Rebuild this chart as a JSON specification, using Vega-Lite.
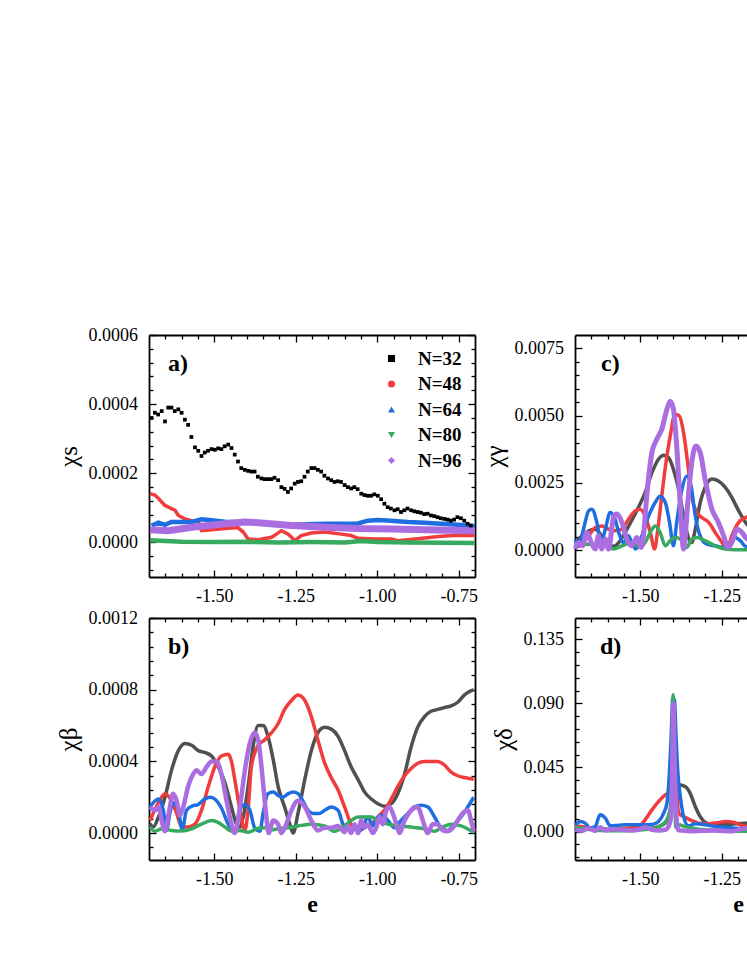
{
  "$schema": "https://vega.github.io/schema/vega-lite/v6.json",
  "background": "white",
  "padding": {"left": 56, "top": 326, "right": 5, "bottom": 5},
  "config": {
    "font": "Liberation Serif",
    "view": {"stroke": null},
    "axis": {"domainColor": "black", "domainWidth": 1.8, "tickColor": "black", "tickWidth": 1.3, "labelFont": "Liberation Serif", "labelFontSize": 18, "labelColor": "black", "titleFont": "Liberation Serif", "titleColor": "black", "grid": false, "labelFlush": false, "labelOverlap": false, "labelBound": false},
    "title": {"font": "Liberation Serif", "fontSize": 24, "fontWeight": "bold", "color": "black", "anchor": "start", "frame": "group", "baseline": "alphabetic"}
  },
  "datasets": {
    "a_pts": [
      {"N":"N=32","x":-1.692,"y":0.00036},{"N":"N=32","x":-1.682,"y":0.000375},{"N":"N=32","x":-1.672,"y":0.00037},{"N":"N=32","x":-1.661,"y":0.00038},{"N":"N=32","x":-1.651,"y":0.00035},{"N":"N=32","x":-1.641,"y":0.00039},{"N":"N=32","x":-1.631,"y":0.00039},{"N":"N=32","x":-1.621,"y":0.00038},{"N":"N=32","x":-1.610,"y":0.000385},{"N":"N=32","x":-1.600,"y":0.000375},
      {"N":"N=32","x":-1.590,"y":0.000355},{"N":"N=32","x":-1.580,"y":0.00034},{"N":"N=32","x":-1.570,"y":0.000305},{"N":"N=32","x":-1.559,"y":0.000275},{"N":"N=32","x":-1.549,"y":0.000265},{"N":"N=32","x":-1.539,"y":0.00025},{"N":"N=32","x":-1.529,"y":0.00026},{"N":"N=32","x":-1.519,"y":0.000265},{"N":"N=32","x":-1.508,"y":0.00027},{"N":"N=32","x":-1.498,"y":0.000268},
      {"N":"N=32","x":-1.488,"y":0.000272},{"N":"N=32","x":-1.478,"y":0.00027},{"N":"N=32","x":-1.468,"y":0.000278},{"N":"N=32","x":-1.457,"y":0.000283},{"N":"N=32","x":-1.447,"y":0.000273},{"N":"N=32","x":-1.437,"y":0.000254},{"N":"N=32","x":-1.427,"y":0.000234},{"N":"N=32","x":-1.417,"y":0.000215},{"N":"N=32","x":-1.406,"y":0.00021},{"N":"N=32","x":-1.396,"y":0.000207},
      {"N":"N=32","x":-1.386,"y":0.000205},{"N":"N=32","x":-1.376,"y":0.000205},{"N":"N=32","x":-1.366,"y":0.00019},{"N":"N=32","x":-1.355,"y":0.000185},{"N":"N=32","x":-1.345,"y":0.000183},{"N":"N=32","x":-1.335,"y":0.000183},{"N":"N=32","x":-1.325,"y":0.000183},{"N":"N=32","x":-1.315,"y":0.000187},{"N":"N=32","x":-1.304,"y":0.00018},{"N":"N=32","x":-1.294,"y":0.00016},
      {"N":"N=32","x":-1.284,"y":0.000155},{"N":"N=32","x":-1.274,"y":0.000146},{"N":"N=32","x":-1.264,"y":0.000156},{"N":"N=32","x":-1.253,"y":0.00017},{"N":"N=32","x":-1.243,"y":0.000175},{"N":"N=32","x":-1.233,"y":0.000177},{"N":"N=32","x":-1.223,"y":0.00019},{"N":"N=32","x":-1.213,"y":0.000205},{"N":"N=32","x":-1.202,"y":0.000215},{"N":"N=32","x":-1.192,"y":0.000215},
      {"N":"N=32","x":-1.182,"y":0.00021},{"N":"N=32","x":-1.172,"y":0.000205},{"N":"N=32","x":-1.162,"y":0.000193},{"N":"N=32","x":-1.151,"y":0.000185},{"N":"N=32","x":-1.141,"y":0.00018},{"N":"N=32","x":-1.131,"y":0.000175},{"N":"N=32","x":-1.121,"y":0.000177},{"N":"N=32","x":-1.111,"y":0.000175},{"N":"N=32","x":-1.100,"y":0.000166},{"N":"N=32","x":-1.090,"y":0.00016},
      {"N":"N=32","x":-1.080,"y":0.000156},{"N":"N=32","x":-1.070,"y":0.00016},{"N":"N=32","x":-1.060,"y":0.000154},{"N":"N=32","x":-1.049,"y":0.000141},{"N":"N=32","x":-1.039,"y":0.000137},{"N":"N=32","x":-1.029,"y":0.000135},{"N":"N=32","x":-1.019,"y":0.000135},{"N":"N=32","x":-1.009,"y":0.000139},{"N":"N=32","x":-0.998,"y":0.000135},{"N":"N=32","x":-0.988,"y":0.000125},
      {"N":"N=32","x":-0.978,"y":0.000112},{"N":"N=32","x":-0.968,"y":0.000102},{"N":"N=32","x":-0.958,"y":0.000098},{"N":"N=32","x":-0.947,"y":0.000093},{"N":"N=32","x":-0.937,"y":0.000096},{"N":"N=32","x":-0.927,"y":0.000088},{"N":"N=32","x":-0.917,"y":0.000093},{"N":"N=32","x":-0.907,"y":0.000098},{"N":"N=32","x":-0.896,"y":0.000093},{"N":"N=32","x":-0.886,"y":0.00009},
      {"N":"N=32","x":-0.876,"y":0.000088},{"N":"N=32","x":-0.866,"y":0.000086},{"N":"N=32","x":-0.856,"y":0.000082},{"N":"N=32","x":-0.845,"y":0.000083},{"N":"N=32","x":-0.835,"y":0.000078},{"N":"N=32","x":-0.825,"y":0.000076},{"N":"N=32","x":-0.815,"y":0.000073},{"N":"N=32","x":-0.805,"y":0.00007},{"N":"N=32","x":-0.794,"y":0.000068},{"N":"N=32","x":-0.784,"y":0.000066},
      {"N":"N=32","x":-0.774,"y":0.000063},{"N":"N=32","x":-0.764,"y":0.000066},{"N":"N=32","x":-0.754,"y":0.000073},{"N":"N=32","x":-0.743,"y":0.00007},{"N":"N=32","x":-0.733,"y":0.000063},{"N":"N=32","x":-0.723,"y":0.000054},{"N":"N=32","x":-0.713,"y":0.000049}
    ],
    "a_lines": [
      {"N":"N=48","x":-1.697,"y":0.000141},{"N":"N=48","x":-1.682,"y":0.000137},{"N":"N=48","x":-1.671,"y":0.000127},{"N":"N=48","x":-1.651,"y":0.000107},{"N":"N=48","x":-1.631,"y":0.000098},{"N":"N=48","x":-1.620,"y":0.000093},{"N":"N=48","x":-1.610,"y":0.000078},{"N":"N=48","x":-1.590,"y":0.000068},{"N":"N=48","x":-1.569,"y":0.000063},{"N":"N=48","x":-1.549,"y":0.00006},{"N":"N=48","x":-1.539,"y":0.000034},{"N":"N=48","x":-1.508,"y":0.000037},{"N":"N=48","x":-1.467,"y":0.00004},{"N":"N=48","x":-1.427,"y":0.000043},{"N":"N=48","x":-1.411,"y":0.00003},{"N":"N=48","x":-1.396,"y":0.00001},{"N":"N=48","x":-1.365,"y":0.000008},{"N":"N=48","x":-1.324,"y":0.000015},{"N":"N=48","x":-1.309,"y":0.000024},{"N":"N=48","x":-1.294,"y":0.000034},{"N":"N=48","x":-1.273,"y":0.000024},{"N":"N=48","x":-1.263,"y":0.000015},{"N":"N=48","x":-1.253,"y":0.000005},{"N":"N=48","x":-1.233,"y":0.00002},{"N":"N=48","x":-1.202,"y":0.000027},{"N":"N=48","x":-1.161,"y":0.00003},{"N":"N=48","x":-1.110,"y":0.000024},{"N":"N=48","x":-1.080,"y":0.00002},{"N":"N=48","x":-1.059,"y":0.000012},{"N":"N=48","x":-1.008,"y":0.00001},{"N":"N=48","x":-0.957,"y":0.00001},{"N":"N=48","x":-0.937,"y":0.000005},{"N":"N=48","x":-0.906,"y":0.000008},{"N":"N=48","x":-0.855,"y":0.000013},{"N":"N=48","x":-0.804,"y":0.000018},{"N":"N=48","x":-0.753,"y":0.000021},{"N":"N=48","x":-0.700,"y":0.00002},
      {"N":"N=64","x":-1.692,"y":0.000049},{"N":"N=64","x":-1.671,"y":0.000057},{"N":"N=64","x":-1.651,"y":0.000051},{"N":"N=64","x":-1.631,"y":0.000059},{"N":"N=64","x":-1.569,"y":0.000059},{"N":"N=64","x":-1.539,"y":0.000067},{"N":"N=64","x":-1.508,"y":0.000064},{"N":"N=64","x":-1.467,"y":0.00006},{"N":"N=64","x":-1.365,"y":0.000058},{"N":"N=64","x":-1.263,"y":0.000051},{"N":"N=64","x":-1.161,"y":0.000054},{"N":"N=64","x":-1.059,"y":0.000055},{"N":"N=64","x":-1.029,"y":0.000063},{"N":"N=64","x":-0.998,"y":0.000065},{"N":"N=64","x":-0.957,"y":0.000063},{"N":"N=64","x":-0.906,"y":0.000059},{"N":"N=64","x":-0.855,"y":0.000057},{"N":"N=64","x":-0.804,"y":0.000054},{"N":"N=64","x":-0.753,"y":0.000051},{"N":"N=64","x":-0.700,"y":0.000047},
      {"N":"N=80","x":-1.697,"y":0.000006},{"N":"N=80","x":-1.6,"y":0.000002},{"N":"N=80","x":-1.5,"y":0.000001},{"N":"N=80","x":-1.4,"y":0.000002},{"N":"N=80","x":-1.3,"y":0.0},{"N":"N=80","x":-1.2,"y":0.000001},{"N":"N=80","x":-1.1,"y":0.0},{"N":"N=80","x":-1.05,"y":0.000004},{"N":"N=80","x":-1.0,"y":0.000001},{"N":"N=80","x":-0.9,"y":0.0},{"N":"N=80","x":-0.8,"y":-0.000001},{"N":"N=80","x":-0.700,"y":-0.000002},
      {"N":"N=96","x":-1.697,"y":0.000037},{"N":"N=96","x":-1.641,"y":0.000034},{"N":"N=96","x":-1.569,"y":0.000044},{"N":"N=96","x":-1.467,"y":0.000054},{"N":"N=96","x":-1.406,"y":0.000059},{"N":"N=96","x":-1.365,"y":0.000057},{"N":"N=96","x":-1.263,"y":0.000049},{"N":"N=96","x":-1.161,"y":0.000044},{"N":"N=96","x":-1.059,"y":0.00004},{"N":"N=96","x":-0.957,"y":0.000039},{"N":"N=96","x":-0.855,"y":0.000037},{"N":"N=96","x":-0.700,"y":0.000034}
    ],
    "b": [
      {"N":"N=32","x":-1.697,"y":0.000052},{"N":"N=32","x":-1.687,"y":0.000034},{"N":"N=32","x":-1.671,"y":0.00009},{"N":"N=32","x":-1.651,"y":0.0002},{"N":"N=32","x":-1.631,"y":0.00035},{"N":"N=32","x":-1.610,"y":0.00046},{"N":"N=32","x":-1.590,"y":0.0005},{"N":"N=32","x":-1.569,"y":0.00049},{"N":"N=32","x":-1.549,"y":0.00046},{"N":"N=32","x":-1.529,"y":0.00045},{"N":"N=32","x":-1.508,"y":0.00043},{"N":"N=32","x":-1.488,"y":0.00037},{"N":"N=32","x":-1.467,"y":0.00028},{"N":"N=32","x":-1.447,"y":0.000146},{"N":"N=32","x":-1.432,"y":0.000052},{"N":"N=32","x":-1.421,"y":0.000034},{"N":"N=32","x":-1.411,"y":0.00009},{"N":"N=32","x":-1.396,"y":0.00026},{"N":"N=32","x":-1.381,"y":0.00048},{"N":"N=32","x":-1.365,"y":0.0006},{"N":"N=32","x":-1.350,"y":0.0006},{"N":"N=32","x":-1.335,"y":0.00054},{"N":"N=32","x":-1.319,"y":0.00041},{"N":"N=32","x":-1.304,"y":0.00026},{"N":"N=32","x":-1.284,"y":0.000146},{"N":"N=32","x":-1.268,"y":0.00005},{"N":"N=32","x":-1.258,"y":0.0},{"N":"N=32","x":-1.243,"y":0.00011},{"N":"N=32","x":-1.222,"y":0.0003},{"N":"N=32","x":-1.202,"y":0.00046},{"N":"N=32","x":-1.182,"y":0.00056},{"N":"N=32","x":-1.161,"y":0.00059},{"N":"N=32","x":-1.141,"y":0.00058},{"N":"N=32","x":-1.120,"y":0.00054},{"N":"N=32","x":-1.100,"y":0.00046},{"N":"N=32","x":-1.080,"y":0.00037},{"N":"N=32","x":-1.059,"y":0.0003},{"N":"N=32","x":-1.039,"y":0.00023},{"N":"N=32","x":-1.018,"y":0.00019},{"N":"N=32","x":-0.998,"y":0.000164},{"N":"N=32","x":-0.978,"y":0.00015},{"N":"N=32","x":-0.957,"y":0.000164},{"N":"N=32","x":-0.937,"y":0.00022},{"N":"N=32","x":-0.916,"y":0.00033},{"N":"N=32","x":-0.896,"y":0.00048},{"N":"N=32","x":-0.876,"y":0.00059},{"N":"N=32","x":-0.855,"y":0.00065},{"N":"N=32","x":-0.835,"y":0.00068},{"N":"N=32","x":-0.814,"y":0.00069},{"N":"N=32","x":-0.794,"y":0.0007},{"N":"N=32","x":-0.773,"y":0.00071},{"N":"N=32","x":-0.753,"y":0.00073},{"N":"N=32","x":-0.733,"y":0.00077},{"N":"N=32","x":-0.704,"y":0.0008},
      {"N":"N=48","x":-1.697,"y":0.00007},{"N":"N=48","x":-1.671,"y":0.00017},{"N":"N=48","x":-1.651,"y":0.00022},{"N":"N=48","x":-1.631,"y":0.00018},{"N":"N=48","x":-1.615,"y":0.00011},{"N":"N=48","x":-1.600,"y":0.000034},{"N":"N=48","x":-1.580,"y":0.000034},{"N":"N=48","x":-1.559,"y":0.00005},{"N":"N=48","x":-1.539,"y":0.000127},{"N":"N=48","x":-1.518,"y":0.00026},{"N":"N=48","x":-1.498,"y":0.00037},{"N":"N=48","x":-1.478,"y":0.00043},{"N":"N=48","x":-1.457,"y":0.00044},{"N":"N=48","x":-1.447,"y":0.0004},{"N":"N=48","x":-1.437,"y":0.0003},{"N":"N=48","x":-1.421,"y":0.00013},{"N":"N=48","x":-1.406,"y":0.000015},{"N":"N=48","x":-1.396,"y":0.00013},{"N":"N=48","x":-1.386,"y":0.00037},{"N":"N=48","x":-1.365,"y":0.00049},{"N":"N=48","x":-1.345,"y":0.00052},{"N":"N=48","x":-1.324,"y":0.00056},{"N":"N=48","x":-1.304,"y":0.00061},{"N":"N=48","x":-1.284,"y":0.00069},{"N":"N=48","x":-1.263,"y":0.00074},{"N":"N=48","x":-1.243,"y":0.00077},{"N":"N=48","x":-1.222,"y":0.00074},{"N":"N=48","x":-1.202,"y":0.00065},{"N":"N=48","x":-1.182,"y":0.00052},{"N":"N=48","x":-1.161,"y":0.00039},{"N":"N=48","x":-1.141,"y":0.00031},{"N":"N=48","x":-1.120,"y":0.00024},{"N":"N=48","x":-1.100,"y":0.000146},{"N":"N=48","x":-1.080,"y":0.00005},{"N":"N=48","x":-1.059,"y":0.000015},{"N":"N=48","x":-1.039,"y":0.00003},{"N":"N=48","x":-1.018,"y":0.00005},{"N":"N=48","x":-0.998,"y":0.00009},{"N":"N=48","x":-0.978,"y":0.000127},{"N":"N=48","x":-0.957,"y":0.00019},{"N":"N=48","x":-0.937,"y":0.00026},{"N":"N=48","x":-0.916,"y":0.00032},{"N":"N=48","x":-0.896,"y":0.00036},{"N":"N=48","x":-0.876,"y":0.00039},{"N":"N=48","x":-0.855,"y":0.0004},{"N":"N=48","x":-0.835,"y":0.0004},{"N":"N=48","x":-0.814,"y":0.0004},{"N":"N=48","x":-0.794,"y":0.00038},{"N":"N=48","x":-0.773,"y":0.00034},{"N":"N=48","x":-0.753,"y":0.00032},{"N":"N=48","x":-0.733,"y":0.00031},{"N":"N=48","x":-0.704,"y":0.0003},
      {"N":"N=64","x":-1.697,"y":0.000146},{"N":"N=64","x":-1.671,"y":0.00019},{"N":"N=64","x":-1.656,"y":0.000127},{"N":"N=64","x":-1.646,"y":0.000015},{"N":"N=64","x":-1.636,"y":0.00011},{"N":"N=64","x":-1.626,"y":0.00017},{"N":"N=64","x":-1.610,"y":0.000127},{"N":"N=64","x":-1.598,"y":0.00002},{"N":"N=64","x":-1.585,"y":0.000127},{"N":"N=64","x":-1.569,"y":0.00015},{"N":"N=64","x":-1.549,"y":0.00016},{"N":"N=64","x":-1.529,"y":0.00019},{"N":"N=64","x":-1.513,"y":0.0002},{"N":"N=64","x":-1.498,"y":0.00019},{"N":"N=64","x":-1.478,"y":0.00014},{"N":"N=64","x":-1.457,"y":0.00005},{"N":"N=64","x":-1.437,"y":0.0},{"N":"N=64","x":-1.421,"y":0.00013},{"N":"N=64","x":-1.406,"y":0.00016},{"N":"N=64","x":-1.391,"y":0.00013},{"N":"N=64","x":-1.376,"y":0.00003},{"N":"N=64","x":-1.360,"y":0.00001},{"N":"N=64","x":-1.350,"y":0.00011},{"N":"N=64","x":-1.335,"y":0.00022},{"N":"N=64","x":-1.319,"y":0.00023},{"N":"N=64","x":-1.304,"y":0.00021},{"N":"N=64","x":-1.289,"y":0.0002},{"N":"N=64","x":-1.273,"y":0.00022},{"N":"N=64","x":-1.258,"y":0.00023},{"N":"N=64","x":-1.243,"y":0.00022},{"N":"N=64","x":-1.228,"y":0.00018},{"N":"N=64","x":-1.212,"y":0.000127},{"N":"N=64","x":-1.197,"y":0.00011},{"N":"N=64","x":-1.177,"y":0.00011},{"N":"N=64","x":-1.161,"y":0.000127},{"N":"N=64","x":-1.141,"y":0.000146},{"N":"N=64","x":-1.120,"y":0.000127},{"N":"N=64","x":-1.105,"y":0.00005},{"N":"N=64","x":-1.090,"y":0.00002},{"N":"N=64","x":-1.074,"y":0.00003},{"N":"N=64","x":-1.059,"y":0.00001},{"N":"N=64","x":-1.044,"y":0.00003},{"N":"N=64","x":-1.029,"y":0.00009},{"N":"N=64","x":-1.013,"y":0.00004},{"N":"N=64","x":-0.998,"y":0.00009},{"N":"N=64","x":-0.983,"y":0.0001},{"N":"N=64","x":-0.967,"y":0.00007},{"N":"N=64","x":-0.947,"y":0.00003},{"N":"N=64","x":-0.927,"y":0.00007},{"N":"N=64","x":-0.906,"y":0.00011},{"N":"N=64","x":-0.886,"y":0.000146},{"N":"N=64","x":-0.865,"y":0.000155},{"N":"N=64","x":-0.845,"y":0.000146},{"N":"N=64","x":-0.824,"y":0.00009},{"N":"N=64","x":-0.804,"y":0.00003},{"N":"N=64","x":-0.784,"y":0.000015},{"N":"N=64","x":-0.763,"y":0.00005},{"N":"N=64","x":-0.743,"y":0.00009},{"N":"N=64","x":-0.722,"y":0.000146},{"N":"N=64","x":-0.704,"y":0.0002},
      {"N":"N=80","x":-1.697,"y":0.000034},{"N":"N=80","x":-1.682,"y":0.00001},{"N":"N=80","x":-1.661,"y":0.000024},{"N":"N=80","x":-1.631,"y":0.000015},{"N":"N=80","x":-1.600,"y":0.000012},{"N":"N=80","x":-1.569,"y":0.000024},{"N":"N=80","x":-1.539,"y":0.00005},{"N":"N=80","x":-1.508,"y":0.00007},{"N":"N=80","x":-1.488,"y":0.00006},{"N":"N=80","x":-1.467,"y":0.000034},{"N":"N=80","x":-1.447,"y":0.00001},{"N":"N=80","x":-1.421,"y":0.000015},{"N":"N=80","x":-1.396,"y":0.000005},{"N":"N=80","x":-1.370,"y":0.000024},{"N":"N=80","x":-1.345,"y":0.00003},{"N":"N=80","x":-1.324,"y":0.000018},{"N":"N=80","x":-1.304,"y":0.000024},{"N":"N=80","x":-1.273,"y":0.00003},{"N":"N=80","x":-1.243,"y":0.00004},{"N":"N=80","x":-1.202,"y":0.00005},{"N":"N=80","x":-1.161,"y":0.00004},{"N":"N=80","x":-1.131,"y":0.00001},{"N":"N=80","x":-1.100,"y":0.00004},{"N":"N=80","x":-1.080,"y":0.00007},{"N":"N=80","x":-1.059,"y":0.00009},{"N":"N=80","x":-1.039,"y":0.00009},{"N":"N=80","x":-1.018,"y":0.00009},{"N":"N=80","x":-0.998,"y":0.00007},{"N":"N=80","x":-0.967,"y":0.00005},{"N":"N=80","x":-0.937,"y":0.00004},{"N":"N=80","x":-0.896,"y":0.000034},{"N":"N=80","x":-0.855,"y":0.000024},{"N":"N=80","x":-0.824,"y":0.00001},{"N":"N=80","x":-0.804,"y":0.00003},{"N":"N=80","x":-0.773,"y":0.00005},{"N":"N=80","x":-0.743,"y":0.00004},{"N":"N=80","x":-0.704,"y":0.000005},
      {"N":"N=96","x":-1.697,"y":0.000146},{"N":"N=96","x":-1.682,"y":0.000127},{"N":"N=96","x":-1.671,"y":0.000146},{"N":"N=96","x":-1.661,"y":0.00007},{"N":"N=96","x":-1.651,"y":0.00001},{"N":"N=96","x":-1.636,"y":0.000146},{"N":"N=96","x":-1.626,"y":0.00022},{"N":"N=96","x":-1.615,"y":0.00018},{"N":"N=96","x":-1.605,"y":0.0001},{"N":"N=96","x":-1.595,"y":0.000146},{"N":"N=96","x":-1.580,"y":0.00026},{"N":"N=96","x":-1.564,"y":0.00033},{"N":"N=96","x":-1.554,"y":0.00035},{"N":"N=96","x":-1.539,"y":0.00033},{"N":"N=96","x":-1.523,"y":0.00037},{"N":"N=96","x":-1.508,"y":0.0004},{"N":"N=96","x":-1.493,"y":0.0004},{"N":"N=96","x":-1.478,"y":0.00033},{"N":"N=96","x":-1.462,"y":0.00018},{"N":"N=96","x":-1.447,"y":0.00005},{"N":"N=96","x":-1.437,"y":0.0},{"N":"N=96","x":-1.421,"y":0.000146},{"N":"N=96","x":-1.406,"y":0.00035},{"N":"N=96","x":-1.391,"y":0.0005},{"N":"N=96","x":-1.376,"y":0.00056},{"N":"N=96","x":-1.365,"y":0.00052},{"N":"N=96","x":-1.355,"y":0.00037},{"N":"N=96","x":-1.343,"y":0.000146},{"N":"N=96","x":-1.333,"y":0.0},{"N":"N=96","x":-1.319,"y":0.00007},{"N":"N=96","x":-1.304,"y":0.00005},{"N":"N=96","x":-1.294,"y":0.0},{"N":"N=96","x":-1.279,"y":0.00005},{"N":"N=96","x":-1.263,"y":0.000127},{"N":"N=96","x":-1.243,"y":0.00018},{"N":"N=96","x":-1.222,"y":0.000146},{"N":"N=96","x":-1.202,"y":0.00007},{"N":"N=96","x":-1.182,"y":0.000015},{"N":"N=96","x":-1.161,"y":0.00003},{"N":"N=96","x":-1.141,"y":0.00003},{"N":"N=96","x":-1.120,"y":0.00004},{"N":"N=96","x":-1.100,"y":0.000005},{"N":"N=96","x":-1.090,"y":0.00004},{"N":"N=96","x":-1.080,"y":0.0},{"N":"N=96","x":-1.069,"y":0.00005},{"N":"N=96","x":-1.059,"y":0.0},{"N":"N=96","x":-1.049,"y":0.00007},{"N":"N=96","x":-1.039,"y":0.00003},{"N":"N=96","x":-1.029,"y":0.00005},{"N":"N=96","x":-1.013,"y":0.0},{"N":"N=96","x":-1.003,"y":0.00003},{"N":"N=96","x":-0.993,"y":0.00009},{"N":"N=96","x":-0.983,"y":0.00005},{"N":"N=96","x":-0.972,"y":0.000127},{"N":"N=96","x":-0.962,"y":0.000146},{"N":"N=96","x":-0.952,"y":0.00011},{"N":"N=96","x":-0.941,"y":0.00005},{"N":"N=96","x":-0.932,"y":0.0},{"N":"N=96","x":-0.916,"y":0.00007},{"N":"N=96","x":-0.896,"y":0.000127},{"N":"N=96","x":-0.876,"y":0.000146},{"N":"N=96","x":-0.860,"y":0.00007},{"N":"N=96","x":-0.845,"y":0.0},{"N":"N=96","x":-0.830,"y":0.00005},{"N":"N=96","x":-0.814,"y":0.00005},{"N":"N=96","x":-0.799,"y":0.000015},{"N":"N=96","x":-0.784,"y":0.00001},{"N":"N=96","x":-0.768,"y":0.00003},{"N":"N=96","x":-0.753,"y":0.00007},{"N":"N=96","x":-0.738,"y":0.00011},{"N":"N=96","x":-0.722,"y":0.000127},{"N":"N=96","x":-0.712,"y":0.00007},{"N":"N=96","x":-0.704,"y":0.00001}
    ],
    "c": [
      {"N":"N=32","x":-1.699,"y":0.00028},{"N":"N=32","x":-1.679,"y":0.00053},{"N":"N=32","x":-1.658,"y":0.00072},{"N":"N=32","x":-1.638,"y":0.00078},{"N":"N=32","x":-1.618,"y":0.00053},{"N":"N=32","x":-1.597,"y":0.00022},{"N":"N=32","x":-1.582,"y":0.00014},{"N":"N=32","x":-1.566,"y":0.00028},{"N":"N=32","x":-1.546,"y":0.00066},{"N":"N=32","x":-1.526,"y":0.0011},{"N":"N=32","x":-1.505,"y":0.0016},{"N":"N=32","x":-1.485,"y":0.00214},{"N":"N=32","x":-1.464,"y":0.00288},{"N":"N=32","x":-1.444,"y":0.00338},{"N":"N=32","x":-1.428,"y":0.00353},{"N":"N=32","x":-1.413,"y":0.00344},{"N":"N=32","x":-1.398,"y":0.003},{"N":"N=32","x":-1.382,"y":0.00226},{"N":"N=32","x":-1.367,"y":0.00127},{"N":"N=32","x":-1.354,"y":0.00053},{"N":"N=32","x":-1.342,"y":0.00028},{"N":"N=32","x":-1.331,"y":0.00078},{"N":"N=32","x":-1.316,"y":0.00177},{"N":"N=32","x":-1.301,"y":0.00233},{"N":"N=32","x":-1.280,"y":0.00264},{"N":"N=32","x":-1.260,"y":0.00257},{"N":"N=32","x":-1.239,"y":0.00233},{"N":"N=32","x":-1.219,"y":0.00196},{"N":"N=32","x":-1.198,"y":0.00146},{"N":"N=32","x":-1.177,"y":0.00103},{"N":"N=32","x":-1.15,"y":0.0007},
      {"N":"N=48","x":-1.699,"y":0.0001},{"N":"N=48","x":-1.679,"y":0.00022},{"N":"N=48","x":-1.658,"y":0.00053},{"N":"N=48","x":-1.638,"y":0.00084},{"N":"N=48","x":-1.618,"y":0.0009},{"N":"N=48","x":-1.597,"y":0.00078},{"N":"N=48","x":-1.577,"y":0.00072},{"N":"N=48","x":-1.556,"y":0.00078},{"N":"N=48","x":-1.536,"y":0.00115},{"N":"N=48","x":-1.515,"y":0.00146},{"N":"N=48","x":-1.500,"y":0.00152},{"N":"N=48","x":-1.485,"y":0.00127},{"N":"N=48","x":-1.469,"y":0.00066},{"N":"N=48","x":-1.456,"y":0.00004},{"N":"N=48","x":-1.446,"y":0.00078},{"N":"N=48","x":-1.434,"y":0.002},{"N":"N=48","x":-1.421,"y":0.00325},{"N":"N=48","x":-1.408,"y":0.00424},{"N":"N=48","x":-1.393,"y":0.00505},{"N":"N=48","x":-1.380,"y":0.00499},{"N":"N=48","x":-1.367,"y":0.00437},{"N":"N=48","x":-1.352,"y":0.003},{"N":"N=48","x":-1.342,"y":0.002},{"N":"N=48","x":-1.326,"y":0.0014},{"N":"N=48","x":-1.311,"y":0.00121},{"N":"N=48","x":-1.290,"y":0.00103},{"N":"N=48","x":-1.270,"y":0.00066},{"N":"N=48","x":-1.249,"y":0.00028},{"N":"N=48","x":-1.234,"y":0.00004},{"N":"N=48","x":-1.219,"y":0.00053},{"N":"N=48","x":-1.198,"y":0.00103},{"N":"N=48","x":-1.177,"y":0.00121},{"N":"N=48","x":-1.15,"y":0.0013},
      {"N":"N=64","x":-1.699,"y":0.0004},{"N":"N=64","x":-1.689,"y":0.00016},{"N":"N=64","x":-1.674,"y":0.00078},{"N":"N=64","x":-1.658,"y":0.00146},{"N":"N=64","x":-1.648,"y":0.00152},{"N":"N=64","x":-1.633,"y":0.00103},{"N":"N=64","x":-1.620,"y":0.00028},{"N":"N=64","x":-1.607,"y":0.00078},{"N":"N=64","x":-1.592,"y":0.0014},{"N":"N=64","x":-1.577,"y":0.00115},{"N":"N=64","x":-1.566,"y":0.00066},{"N":"N=64","x":-1.551,"y":0.00028},{"N":"N=64","x":-1.536,"y":0.00053},{"N":"N=64","x":-1.526,"y":0.00028},{"N":"N=64","x":-1.513,"y":0.00004},{"N":"N=64","x":-1.495,"y":0.00053},{"N":"N=64","x":-1.474,"y":0.00127},{"N":"N=64","x":-1.454,"y":0.00177},{"N":"N=64","x":-1.439,"y":0.002},{"N":"N=64","x":-1.423,"y":0.00177},{"N":"N=64","x":-1.410,"y":0.00103},{"N":"N=64","x":-1.398,"y":0.00016},{"N":"N=64","x":-1.388,"y":0.00103},{"N":"N=64","x":-1.372,"y":0.00226},{"N":"N=64","x":-1.357,"y":0.00276},{"N":"N=64","x":-1.344,"y":0.00239},{"N":"N=64","x":-1.331,"y":0.00127},{"N":"N=64","x":-1.316,"y":0.00053},{"N":"N=64","x":-1.296,"y":0.00022},{"N":"N=64","x":-1.270,"y":0.00016},{"N":"N=64","x":-1.244,"y":0.0001},{"N":"N=64","x":-1.224,"y":0.00016},{"N":"N=64","x":-1.209,"y":0.00047},{"N":"N=64","x":-1.193,"y":0.00035},{"N":"N=64","x":-1.177,"y":0.00014},{"N":"N=64","x":-1.15,"y":0.0001},
      {"N":"N=80","x":-1.699,"y":0.00028},{"N":"N=80","x":-1.669,"y":0.00022},{"N":"N=80","x":-1.638,"y":0.00022},{"N":"N=80","x":-1.607,"y":0.00028},{"N":"N=80","x":-1.582,"y":0.00004},{"N":"N=80","x":-1.556,"y":0.00016},{"N":"N=80","x":-1.526,"y":0.00028},{"N":"N=80","x":-1.500,"y":0.0001},{"N":"N=80","x":-1.485,"y":0.00028},{"N":"N=80","x":-1.469,"y":0.00066},{"N":"N=80","x":-1.454,"y":0.0009},{"N":"N=80","x":-1.439,"y":0.00066},{"N":"N=80","x":-1.423,"y":0.00016},{"N":"N=80","x":-1.408,"y":0.00035},{"N":"N=80","x":-1.393,"y":0.00047},{"N":"N=80","x":-1.377,"y":0.00041},{"N":"N=80","x":-1.357,"y":0.0001},{"N":"N=80","x":-1.342,"y":0.00041},{"N":"N=80","x":-1.326,"y":0.00047},{"N":"N=80","x":-1.301,"y":0.00035},{"N":"N=80","x":-1.270,"y":0.00016},{"N":"N=80","x":-1.239,"y":0.00004},{"N":"N=80","x":-1.209,"y":0.00001},{"N":"N=80","x":-1.177,"y":0.00001},{"N":"N=80","x":-1.15,"y":0.00001},
      {"N":"N=96","x":-1.699,"y":0.00004},{"N":"N=96","x":-1.689,"y":0.00028},{"N":"N=96","x":-1.677,"y":0.00016},{"N":"N=96","x":-1.664,"y":0.00066},{"N":"N=96","x":-1.650,"y":0.00028},{"N":"N=96","x":-1.638,"y":0.00004},{"N":"N=96","x":-1.628,"y":0.00053},{"N":"N=96","x":-1.618,"y":0.00004},{"N":"N=96","x":-1.607,"y":0.00041},{"N":"N=96","x":-1.597,"y":0.00004},{"N":"N=96","x":-1.582,"y":0.00121},{"N":"N=96","x":-1.572,"y":0.00134},{"N":"N=96","x":-1.556,"y":0.00103},{"N":"N=96","x":-1.541,"y":0.00041},{"N":"N=96","x":-1.526,"y":0.00016},{"N":"N=96","x":-1.510,"y":0.00047},{"N":"N=96","x":-1.497,"y":0.0001},{"N":"N=96","x":-1.490,"y":0.00053},{"N":"N=96","x":-1.480,"y":0.002},{"N":"N=96","x":-1.464,"y":0.00363},{"N":"N=96","x":-1.449,"y":0.00412},{"N":"N=96","x":-1.434,"y":0.00449},{"N":"N=96","x":-1.418,"y":0.00524},{"N":"N=96","x":-1.408,"y":0.00554},{"N":"N=96","x":-1.398,"y":0.00524},{"N":"N=96","x":-1.388,"y":0.00387},{"N":"N=96","x":-1.377,"y":0.00165},{"N":"N=96","x":-1.367,"y":0.00004},{"N":"N=96","x":-1.354,"y":0.00177},{"N":"N=96","x":-1.342,"y":0.00325},{"N":"N=96","x":-1.329,"y":0.00387},{"N":"N=96","x":-1.316,"y":0.00363},{"N":"N=96","x":-1.301,"y":0.00264},{"N":"N=96","x":-1.280,"y":0.00152},{"N":"N=96","x":-1.260,"y":0.00103},{"N":"N=96","x":-1.244,"y":0.00053},{"N":"N=96","x":-1.231,"y":0.0001},{"N":"N=96","x":-1.219,"y":0.00028},{"N":"N=96","x":-1.203,"y":0.00078},{"N":"N=96","x":-1.188,"y":0.00066},{"N":"N=96","x":-1.177,"y":0.00047},{"N":"N=96","x":-1.15,"y":0.0003}
    ],
    "d": [
      {"N":"N=32","x":-1.699,"y":0.0035},{"N":"N=32","x":-1.648,"y":0.0023},{"N":"N=32","x":-1.597,"y":0.0016},{"N":"N=32","x":-1.546,"y":0.0012},{"N":"N=32","x":-1.495,"y":0.0016},{"N":"N=32","x":-1.444,"y":0.0035},{"N":"N=32","x":-1.423,"y":0.0059},{"N":"N=32","x":-1.408,"y":0.0152},{"N":"N=32","x":-1.398,"y":0.029},{"N":"N=32","x":-1.382,"y":0.0328},{"N":"N=32","x":-1.362,"y":0.0316},{"N":"N=32","x":-1.347,"y":0.027},{"N":"N=32","x":-1.331,"y":0.0176},{"N":"N=32","x":-1.316,"y":0.0105},{"N":"N=32","x":-1.296,"y":0.0059},{"N":"N=32","x":-1.270,"y":0.0047},{"N":"N=32","x":-1.239,"y":0.0047},{"N":"N=32","x":-1.209,"y":0.0054},{"N":"N=32","x":-1.177,"y":0.0059},{"N":"N=32","x":-1.15,"y":0.006},
      {"N":"N=48","x":-1.699,"y":0.004},{"N":"N=48","x":-1.648,"y":0.0023},{"N":"N=48","x":-1.597,"y":0.0012},{"N":"N=48","x":-1.546,"y":0.0023},{"N":"N=48","x":-1.505,"y":0.0035},{"N":"N=48","x":-1.485,"y":0.0082},{"N":"N=48","x":-1.464,"y":0.0152},{"N":"N=48","x":-1.444,"y":0.021},{"N":"N=48","x":-1.423,"y":0.0257},{"N":"N=48","x":-1.408,"y":0.028},{"N":"N=48","x":-1.401,"y":0.048},{"N":"N=48","x":-1.397,"y":0.067},{"N":"N=48","x":-1.393,"y":0.048},{"N":"N=48","x":-1.388,"y":0.029},{"N":"N=48","x":-1.382,"y":0.0129},{"N":"N=48","x":-1.367,"y":0.0105},{"N":"N=48","x":-1.347,"y":0.0082},{"N":"N=48","x":-1.321,"y":0.0059},{"N":"N=48","x":-1.290,"y":0.0054},{"N":"N=48","x":-1.260,"y":0.0063},{"N":"N=48","x":-1.239,"y":0.007},{"N":"N=48","x":-1.214,"y":0.0066},{"N":"N=48","x":-1.193,"y":0.0047},{"N":"N=48","x":-1.177,"y":0.0035},{"N":"N=48","x":-1.15,"y":0.003},
      {"N":"N=64","x":-1.699,"y":0.0047},{"N":"N=64","x":-1.684,"y":0.007},{"N":"N=64","x":-1.669,"y":0.0059},{"N":"N=64","x":-1.653,"y":0.0023},{"N":"N=64","x":-1.638,"y":0.0035},{"N":"N=64","x":-1.623,"y":0.0117},{"N":"N=64","x":-1.607,"y":0.0094},{"N":"N=64","x":-1.592,"y":0.004},{"N":"N=64","x":-1.577,"y":0.0042},{"N":"N=64","x":-1.546,"y":0.0047},{"N":"N=64","x":-1.505,"y":0.0047},{"N":"N=64","x":-1.464,"y":0.0049},{"N":"N=64","x":-1.444,"y":0.007},{"N":"N=64","x":-1.428,"y":0.0129},{"N":"N=64","x":-1.418,"y":0.0199},{"N":"N=64","x":-1.411,"y":0.0386},{"N":"N=64","x":-1.405,"y":0.0667},{"N":"N=64","x":-1.400,"y":0.0936},{"N":"N=64","x":-1.395,"y":0.0925},{"N":"N=64","x":-1.390,"y":0.0667},{"N":"N=64","x":-1.385,"y":0.043},{"N":"N=64","x":-1.377,"y":0.0246},{"N":"N=64","x":-1.367,"y":0.0105},{"N":"N=64","x":-1.352,"y":0.004},{"N":"N=64","x":-1.331,"y":0.0054},{"N":"N=64","x":-1.301,"y":0.0047},{"N":"N=64","x":-1.270,"y":0.0035},{"N":"N=64","x":-1.239,"y":0.003},{"N":"N=64","x":-1.209,"y":0.0023},{"N":"N=64","x":-1.177,"y":0.0021},{"N":"N=64","x":-1.15,"y":0.002},
      {"N":"N=80","x":-1.699,"y":0.003},{"N":"N=80","x":-1.648,"y":0.0012},{"N":"N=80","x":-1.597,"y":0.0005},{"N":"N=80","x":-1.546,"y":0.0005},{"N":"N=80","x":-1.495,"y":0.0012},{"N":"N=80","x":-1.454,"y":0.0023},{"N":"N=80","x":-1.434,"y":0.0047},{"N":"N=80","x":-1.418,"y":0.0082},{"N":"N=80","x":-1.408,"y":0.0152},{"N":"N=80","x":-1.403,"y":0.043},{"N":"N=80","x":-1.399,"y":0.096},{"N":"N=80","x":-1.395,"y":0.043},{"N":"N=80","x":-1.391,"y":0.003},{"N":"N=80","x":-1.382,"y":0.0047},{"N":"N=80","x":-1.362,"y":0.0035},{"N":"N=80","x":-1.321,"y":0.0016},{"N":"N=80","x":-1.260,"y":0.0007},{"N":"N=80","x":-1.177,"y":0.0002},{"N":"N=80","x":-1.15,"y":0.0002},
      {"N":"N=96","x":-1.699,"y":0.0012},{"N":"N=96","x":-1.679,"y":0.0005},{"N":"N=96","x":-1.658,"y":0.0023},{"N":"N=96","x":-1.638,"y":0.0005},{"N":"N=96","x":-1.623,"y":0.003},{"N":"N=96","x":-1.607,"y":0.0007},{"N":"N=96","x":-1.587,"y":0.0016},{"N":"N=96","x":-1.556,"y":0.0012},{"N":"N=96","x":-1.526,"y":0.0007},{"N":"N=96","x":-1.505,"y":0.0012},{"N":"N=96","x":-1.485,"y":0.003},{"N":"N=96","x":-1.464,"y":0.0012},{"N":"N=96","x":-1.444,"y":0.0007},{"N":"N=96","x":-1.423,"y":0.0012},{"N":"N=96","x":-1.413,"y":0.0035},{"N":"N=96","x":-1.405,"y":0.0105},{"N":"N=96","x":-1.401,"y":0.055},{"N":"N=96","x":-1.398,"y":0.09},{"N":"N=96","x":-1.395,"y":0.055},{"N":"N=96","x":-1.390,"y":0.0152},{"N":"N=96","x":-1.384,"y":0.0012},{"N":"N=96","x":-1.372,"y":0.0007},{"N":"N=96","x":-1.342,"y":0.0002},{"N":"N=96","x":-1.311,"y":0.0005},{"N":"N=96","x":-1.270,"y":0.0007},{"N":"N=96","x":-1.219,"y":0.0002},{"N":"N=96","x":-1.193,"y":0.0016},{"N":"N=96","x":-1.177,"y":0.0023},{"N":"N=96","x":-1.15,"y":0.0025}
    ]
  },
  "columns": 2,
  "spacing": {"row": 41, "column": 100},
  "bounds": "flush",
  "resolve": {"scale": {"color": "independent", "shape": "independent", "stroke": "independent", "strokeWidth": "independent"}, "legend": {"color": "independent", "shape": "independent"}},
  "concat": [
    {
      "width": 326, "height": 242,
      "title": {"text": "a)", "dx": 19, "offset": -50},
      "layer": [
        {
          "data": {"name": "a_lines"},
          "mark": {"type": "line", "interpolate": "linear"},
          "encoding": {
            "x": {"field": "x", "type": "quantitative", "scale": {"domain": [-1.7, -0.7], "nice": false, "zero": false},
              "axis": {"orient": "bottom", "title": null, "values": [-1.65,-1.6,-1.55,-1.5,-1.45,-1.4,-1.35,-1.3,-1.25,-1.2,-1.15,-1.1,-1.05,-1,-0.95,-0.9,-0.85,-0.8,-0.75],
                "labelExpr": "indexof([-1.5,-1.25,-1,-0.75], datum.value) >= 0 ? replace(format(datum.value, '.2f'), '\u2212', '-') : ''",
                "tickSize": {"condition": {"test": "indexof([-1.5,-1.25,-1,-0.75], datum.value) >= 0", "value": -7}, "value": -4}, "labelPadding": 17}},
            "y": {"field": "y", "type": "quantitative", "scale": {"domain": [-0.0001, 0.0006], "nice": false, "zero": false},
              "axis": {"orient": "left", "title": "χs", "titleFontSize": 25, "titleFontWeight": "normal", "titlePadding": 7,
                "values": [-0.00008,-0.00004,0,0.00004,0.00008,0.00012,0.00016,0.0002,0.00024,0.00028,0.00032,0.00036,0.0004,0.00044,0.00048,0.00052,0.00056,0.0006],
                "labelExpr": "indexof([0,0.0002,0.0004,0.0006], datum.value) >= 0 ? format(datum.value, '.4f') : ''",
                "tickSize": {"condition": {"test": "indexof([0,0.0002,0.0004,0.0006], datum.value) >= 0", "value": -7}, "value": -4}, "labelPadding": 18.5}},
            "stroke": {"field": "N", "type": "nominal", "scale": {"range": ["#f03c3c","#1e6ee1","#37aa5f","#aa6ee1"]}, "legend": null},
            "strokeWidth": {"field": "N", "type": "nominal", "scale": {"type": "ordinal", "range": [3.5, 4.5, 4.5, 7]}, "legend": null}
          }
        },
        {
          "data": {"name": "a_pts"},
          "mark": {"type": "point", "filled": true, "opacity": 1, "size": 14},
          "encoding": {
            "x": {"field": "x", "type": "quantitative", "scale": {"domain": [-1.7, -0.7], "nice": false, "zero": false},
              "axis": {"orient": "top", "title": null, "labels": false, "values": [-1.65,-1.6,-1.55,-1.5,-1.45,-1.4,-1.35,-1.3,-1.25,-1.2,-1.15,-1.1,-1.05,-1,-0.95,-0.9,-0.85,-0.8,-0.75],
                "tickSize": {"condition": {"test": "indexof([-1.5,-1.25,-1,-0.75], datum.value) >= 0", "value": -7}, "value": -4}}},
            "y": {"field": "y", "type": "quantitative", "scale": {"domain": [-0.0001, 0.0006], "nice": false, "zero": false},
              "axis": {"orient": "right", "title": null, "labels": false, "values": [-0.00008,-0.00004,0,0.00004,0.00008,0.00012,0.00016,0.0002,0.00024,0.00028,0.00032,0.00036,0.0004,0.00044,0.00048,0.00052,0.00056,0.0006],
                "tickSize": {"condition": {"test": "indexof([0,0.0002,0.0004,0.0006], datum.value) >= 0", "value": -7}, "value": -4}}},
            "color": {"field": "N", "type": "nominal", "scale": {"domain": ["N=32","N=48","N=64","N=80","N=96"], "range": ["#000000","#f03c3c","#1e6ee1","#37aa5f","#aa6ee1"]},
              "legend": {"title": null, "orient": "none", "legendX": 233, "legendY": 14, "padding": 0, "labelFont": "Liberation Serif", "labelFontSize": 19, "labelFontWeight": "bold", "labelColor": "black", "symbolSize": 50, "rowPadding": 5.5, "labelOffset": 17, "symbolStrokeWidth": 0}},
            "shape": {"field": "N", "type": "nominal", "scale": {"domain": ["N=32","N=48","N=64","N=80","N=96"], "range": ["square","circle","triangle-up","triangle-down","diamond"]},
              "legend": {"title": null, "orient": "none", "legendX": 233, "legendY": 14, "padding": 0, "labelFont": "Liberation Serif", "labelFontSize": 19, "labelFontWeight": "bold", "labelColor": "black", "symbolSize": 50, "rowPadding": 5.5, "labelOffset": 17, "symbolStrokeWidth": 0}}
          }
        }
      ]
    },
    {
      "width": 326, "height": 242,
      "title": {"text": "c)", "dx": 26, "offset": -42},
      "data": {"name": "c"},
      "layer": [
        {
          "mark": {"type": "line", "interpolate": "monotone"},
          "encoding": {
            "x": {"field": "x", "type": "quantitative", "scale": {"domain": [-1.7, -0.7], "nice": false, "zero": false},
              "axis": {"orient": "bottom", "title": null, "values": [-1.65,-1.6,-1.55,-1.5,-1.45,-1.4,-1.35,-1.3,-1.25,-1.2,-1.15,-1.1,-1.05,-1,-0.95,-0.9,-0.85,-0.8,-0.75],
                "labelExpr": "indexof([-1.5,-1.25,-1,-0.75], datum.value) >= 0 ? replace(format(datum.value, '.2f'), '\u2212', '-') : ''",
                "tickSize": {"condition": {"test": "indexof([-1.5,-1.25,-1,-0.75], datum.value) >= 0", "value": -7}, "value": -4}, "labelPadding": 17}},
            "y": {"field": "y", "type": "quantitative", "scale": {"domain": [-0.001, 0.008], "nice": false, "zero": false},
              "axis": {"orient": "left", "title": "χγ", "titleFontSize": 25, "titleFontWeight": "normal", "titlePadding": 7,
                "values": [-0.0005,0,0.0005,0.001,0.0015,0.002,0.0025,0.003,0.0035,0.004,0.0045,0.005,0.0055,0.006,0.0065,0.007,0.0075],
                "labelExpr": "indexof([0,0.0025,0.005,0.0075], datum.value) >= 0 ? format(datum.value, '.4f') : ''",
                "tickSize": {"condition": {"test": "indexof([0,0.0025,0.005,0.0075], datum.value) >= 0", "value": -7}, "value": -4}, "labelPadding": 18.5}},
            "stroke": {"field": "N", "type": "nominal", "scale": {"domain": ["N=32","N=48","N=64","N=80","N=96"], "range": ["#505050","#f03c3c","#1e6ee1","#37aa5f","#aa6ee1"]}, "legend": null},
            "strokeWidth": {"field": "N", "type": "nominal", "scale": {"type": "ordinal", "domain": ["N=32","N=48","N=64","N=80","N=96"], "range": [3.5, 3.5, 3.5, 3.5, 5]}, "legend": null}
          }
        },
        {
          "mark": {"type": "point", "opacity": 0},
          "encoding": {
            "x": {"field": "x", "type": "quantitative", "scale": {"domain": [-1.7, -0.7], "nice": false, "zero": false},
              "axis": {"orient": "top", "title": null, "labels": false, "values": [-1.65,-1.6,-1.55,-1.5,-1.45,-1.4,-1.35,-1.3,-1.25,-1.2,-1.15,-1.1,-1.05,-1,-0.95,-0.9,-0.85,-0.8,-0.75],
                "tickSize": {"condition": {"test": "indexof([-1.5,-1.25,-1,-0.75], datum.value) >= 0", "value": -7}, "value": -4}}},
            "y": {"field": "y", "type": "quantitative", "scale": {"domain": [-0.001, 0.008], "nice": false, "zero": false},
              "axis": {"orient": "right", "title": null, "labels": false, "values": [-0.0005,0,0.0005,0.001,0.0015,0.002,0.0025,0.003,0.0035,0.004,0.0045,0.005,0.0055,0.006,0.0065,0.007,0.0075],
                "tickSize": {"condition": {"test": "indexof([0,0.0025,0.005,0.0075], datum.value) >= 0", "value": -7}, "value": -4}}}
          }
        }
      ]
    },
    {
      "width": 326, "height": 242,
      "title": {"text": "b)", "dx": 19, "offset": -50},
      "data": {"name": "b"},
      "layer": [
        {
          "mark": {"type": "line", "interpolate": "monotone"},
          "encoding": {
            "x": {"field": "x", "type": "quantitative", "scale": {"domain": [-1.7, -0.7], "nice": false, "zero": false},
              "axis": {"orient": "bottom", "title": "e", "titleFontSize": 24, "titleFontWeight": "bold", "titlePadding": 1, "values": [-1.65,-1.6,-1.55,-1.5,-1.45,-1.4,-1.35,-1.3,-1.25,-1.2,-1.15,-1.1,-1.05,-1,-0.95,-0.9,-0.85,-0.8,-0.75],
                "labelExpr": "indexof([-1.5,-1.25,-1,-0.75], datum.value) >= 0 ? replace(format(datum.value, '.2f'), '\u2212', '-') : ''",
                "tickSize": {"condition": {"test": "indexof([-1.5,-1.25,-1,-0.75], datum.value) >= 0", "value": -7}, "value": -4}, "labelPadding": 17}},
            "y": {"field": "y", "type": "quantitative", "scale": {"domain": [-0.00015, 0.0012], "nice": false, "zero": false},
              "axis": {"orient": "left", "title": "χβ", "titleFontSize": 25, "titleFontWeight": "normal", "titlePadding": 7,
                "values": [-0.00008,0,0.00008,0.00016,0.00024,0.00032,0.0004,0.00048,0.00056,0.00064,0.00072,0.0008,0.00088,0.00096,0.00104,0.00112,0.0012],
                "labelExpr": "indexof([0,0.0004,0.0008,0.0012], datum.value) >= 0 ? format(datum.value, '.4f') : ''",
                "tickSize": {"condition": {"test": "indexof([0,0.0004,0.0008,0.0012], datum.value) >= 0", "value": -7}, "value": -4}, "labelPadding": 18.5}},
            "stroke": {"field": "N", "type": "nominal", "scale": {"domain": ["N=32","N=48","N=64","N=80","N=96"], "range": ["#505050","#f03c3c","#1e6ee1","#37aa5f","#aa6ee1"]}, "legend": null},
            "strokeWidth": {"field": "N", "type": "nominal", "scale": {"type": "ordinal", "domain": ["N=32","N=48","N=64","N=80","N=96"], "range": [3.5, 3.5, 3.5, 3.5, 4.5]}, "legend": null}
          }
        },
        {
          "mark": {"type": "point", "opacity": 0},
          "encoding": {
            "x": {"field": "x", "type": "quantitative", "scale": {"domain": [-1.7, -0.7], "nice": false, "zero": false},
              "axis": {"orient": "top", "title": null, "labels": false, "values": [-1.65,-1.6,-1.55,-1.5,-1.45,-1.4,-1.35,-1.3,-1.25,-1.2,-1.15,-1.1,-1.05,-1,-0.95,-0.9,-0.85,-0.8,-0.75],
                "tickSize": {"condition": {"test": "indexof([-1.5,-1.25,-1,-0.75], datum.value) >= 0", "value": -7}, "value": -4}}},
            "y": {"field": "y", "type": "quantitative", "scale": {"domain": [-0.00015, 0.0012], "nice": false, "zero": false},
              "axis": {"orient": "right", "title": null, "labels": false, "values": [-0.00008,0,0.00008,0.00016,0.00024,0.00032,0.0004,0.00048,0.00056,0.00064,0.00072,0.0008,0.00088,0.00096,0.00104,0.00112,0.0012],
                "tickSize": {"condition": {"test": "indexof([0,0.0004,0.0008,0.0012], datum.value) >= 0", "value": -7}, "value": -4}}}
          }
        }
      ]
    },
    {
      "width": 326, "height": 242,
      "title": {"text": "d)", "dx": 25, "offset": -42},
      "data": {"name": "d"},
      "layer": [
        {
          "mark": {"type": "line", "interpolate": "monotone"},
          "encoding": {
            "x": {"field": "x", "type": "quantitative", "scale": {"domain": [-1.7, -0.7], "nice": false, "zero": false},
              "axis": {"orient": "bottom", "title": "e", "titleFontSize": 24, "titleFontWeight": "bold", "titlePadding": 1, "values": [-1.65,-1.6,-1.55,-1.5,-1.45,-1.4,-1.35,-1.3,-1.25,-1.2,-1.15,-1.1,-1.05,-1,-0.95,-0.9,-0.85,-0.8,-0.75],
                "labelExpr": "indexof([-1.5,-1.25,-1,-0.75], datum.value) >= 0 ? replace(format(datum.value, '.2f'), '\u2212', '-') : ''",
                "tickSize": {"condition": {"test": "indexof([-1.5,-1.25,-1,-0.75], datum.value) >= 0", "value": -7}, "value": -4}, "labelPadding": 17}},
            "y": {"field": "y", "type": "quantitative", "scale": {"domain": [-0.02, 0.15], "nice": false, "zero": false},
              "axis": {"orient": "left", "title": "χδ", "titleFontSize": 25, "titleFontWeight": "normal", "titlePadding": 7,
                "values": [-0.018,-0.009,0,0.009,0.018,0.027,0.036,0.045,0.054,0.063,0.072,0.081,0.09,0.099,0.108,0.117,0.126,0.135,0.144],
                "labelExpr": "indexof([0,0.045,0.09,0.135], datum.value) >= 0 ? format(datum.value, '.3f') : ''",
                "tickSize": {"condition": {"test": "indexof([0,0.045,0.09,0.135], datum.value) >= 0", "value": -7}, "value": -4}, "labelPadding": 18.5}},
            "stroke": {"field": "N", "type": "nominal", "scale": {"domain": ["N=32","N=48","N=64","N=80","N=96"], "range": ["#505050","#f03c3c","#1e6ee1","#37aa5f","#aa6ee1"]}, "legend": null},
            "strokeWidth": {"field": "N", "type": "nominal", "scale": {"type": "ordinal", "domain": ["N=32","N=48","N=64","N=80","N=96"], "range": [3.5, 3.5, 3.5, 3.5, 4.5]}, "legend": null}
          }
        },
        {
          "mark": {"type": "point", "opacity": 0},
          "encoding": {
            "x": {"field": "x", "type": "quantitative", "scale": {"domain": [-1.7, -0.7], "nice": false, "zero": false},
              "axis": {"orient": "top", "title": null, "labels": false, "values": [-1.65,-1.6,-1.55,-1.5,-1.45,-1.4,-1.35,-1.3,-1.25,-1.2,-1.15,-1.1,-1.05,-1,-0.95,-0.9,-0.85,-0.8,-0.75],
                "tickSize": {"condition": {"test": "indexof([-1.5,-1.25,-1,-0.75], datum.value) >= 0", "value": -7}, "value": -4}}},
            "y": {"field": "y", "type": "quantitative", "scale": {"domain": [-0.02, 0.15], "nice": false, "zero": false},
              "axis": {"orient": "right", "title": null, "labels": false, "values": [-0.018,-0.009,0,0.009,0.018,0.027,0.036,0.045,0.054,0.063,0.072,0.081,0.09,0.099,0.108,0.117,0.126,0.135,0.144],
                "tickSize": {"condition": {"test": "indexof([0,0.045,0.09,0.135], datum.value) >= 0", "value": -7}, "value": -4}}}
          }
        }
      ]
    }
  ]
}
